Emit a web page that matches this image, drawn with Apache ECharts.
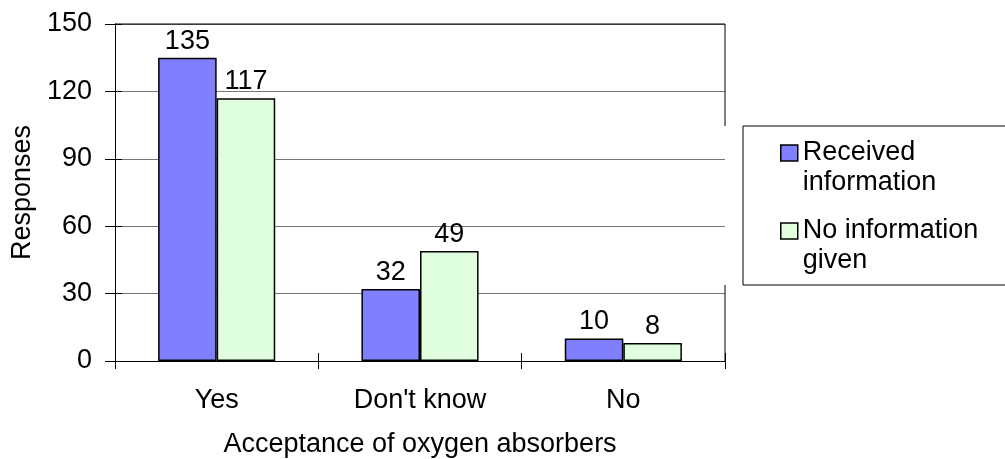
<!DOCTYPE html>
<html>
<head>
<meta charset="utf-8">
<script src="https://cdn.jsdelivr.net/npm/echarts@6/dist/echarts.min.js"></script>
<style>
  html, body { margin: 0; padding: 0; background: #ffffff; }
  #chart { width: 1005px; height: 459px; }
</style>
</head>
<body>
<div id="chart"></div>
<script>
// Survey answers grouped by whether respondents were informed
const categories = ["Yes", "Don't know", "No"];
const receivedInfo = [135, 32, 10];
const noInfo = [117, 49, 8];
const seriesNames = ["Received\ninformation", "No information\ngiven"];
const yTicks = { min: 0, max: 150, interval: 30 };

const FONT = "'Liberation Sans', Arial, sans-serif";
const FS = 27;
const chart = echarts.init(document.getElementById('chart'), null, { renderer: 'canvas' });

const gridBox = { left: 115, right: 280, top: 24, bottom: 98 };

chart.setOption({
  backgroundColor: '#ffffff',
  animation: false,
  textStyle: { fontFamily: FONT, color: '#000' },
  grid: Object.assign({ containLabel: false, outerBoundsMode: 'none' }, gridBox),
  legend: {
    orient: 'vertical',
    left: 780,
    top: 108,
    padding: 0,
    itemWidth: 17,
    itemHeight: 16,
    itemGap: -12,
    icon: 'rect',
    itemStyle: { borderColor: '#000', borderWidth: 1.5 },
    // a leading blank line lines the swatch up with the first line of text
    formatter: function (name) { return '\n' + name; },
    textStyle: { fontFamily: FONT, fontSize: FS, color: '#000', lineHeight: 30 },
    textGap: 8,
    data: seriesNames
  },
  xAxis: [{
    type: 'category',
    data: categories,
    boundaryGap: true,
    axisLine: { lineStyle: { color: '#000', width: 1 } },
    axisTick: { show: true, length: 8, lineStyle: { color: '#000' } },
    axisLabel: { fontFamily: FONT, fontSize: FS, color: '#000', margin: 26 },
    name: 'Acceptance of oxygen absorbers',
    nameLocation: 'middle',
    nameGap: 70,
    nameTextStyle: { fontFamily: FONT, fontSize: FS, color: '#000' },
    splitLine: { show: false }
  }, {
    // inward half of the crossing ticks
    type: 'category',
    data: categories,
    position: 'bottom',
    offset: 0,
    axisLine: { show: false, onZero: false },
    axisTick: { show: true, inside: true, length: 8, lineStyle: { color: '#000' } },
    axisLabel: { show: false },
    splitLine: { show: false }
  }],
  yAxis: [{
    type: 'value',
    min: yTicks.min, max: yTicks.max, interval: yTicks.interval,
    axisLine: { show: true, lineStyle: { color: '#000', width: 1 } },
    axisTick: { show: true, length: 10, lineStyle: { color: '#000' } },
    axisLabel: { fontFamily: FONT, fontSize: FS, color: '#000', margin: 23 },
    splitLine: { show: true, lineStyle: { color: '#777', width: 1 } },
    name: 'Responses',
    nameLocation: 'middle',
    nameGap: 78,
    nameRotate: 90,
    nameTextStyle: { fontFamily: FONT, fontSize: FS, color: '#000' }
  }, {
    type: 'value',
    min: yTicks.min, max: yTicks.max, interval: yTicks.interval,
    position: 'left',
    offset: 0,
    axisLine: { show: false, onZero: false },
    axisTick: { show: true, inside: true, length: 7, lineStyle: { color: '#000' } },
    axisLabel: { show: false },
    splitLine: { show: false }
  }],
  series: [{
    name: seriesNames[0],
    type: 'bar',
    data: receivedInfo,
    barWidth: '28.8%',
    barGap: '0%',
    itemStyle: { color: '#8080ff', borderColor: '#000', borderWidth: 1.5 },
    label: { show: true, position: 'top', distance: 3, fontFamily: FONT, fontSize: FS, color: '#000' }
  }, {
    name: seriesNames[1],
    type: 'bar',
    data: noInfo,
    barWidth: '28.8%',
    barGap: '0%',
    itemStyle: { color: '#dfffdf', borderColor: '#000', borderWidth: 1.5 },
    label: { show: true, position: 'top', distance: 3, fontFamily: FONT, fontSize: FS, color: '#000' }
  }]
});

// Frame: top edge of the plot, right edge broken where the legend sits, and the legend box
function drawFrame() {
  const g = chart.getModel().getComponent('grid', 0).coordinateSystem.getRect();
  const x0 = g.x, x1 = g.x + g.width, y0 = g.y, y1 = g.y + g.height;
  const legTop = 126, legBottom = 285, legLeft = 743;
  const stroke = { stroke: '#000', lineWidth: 1 };
  chart.setOption({
    graphic: [
      { type: 'line', shape: { x1: x0, y1: y0, x2: x1, y2: y0 }, style: stroke, silent: true, z: 5 },
      { type: 'line', shape: { x1: x1, y1: y0, x2: x1, y2: legTop }, style: stroke, silent: true, z: 5 },
      { type: 'line', shape: { x1: x1, y1: legBottom, x2: x1, y2: y1 }, style: stroke, silent: true, z: 5 },
      { type: 'rect', shape: { x: legLeft, y: legTop, width: 1005 - legLeft + 5, height: legBottom - legTop },
        style: { fill: 'rgba(0,0,0,0)', stroke: '#000', lineWidth: 1 }, silent: true, z: 5 }
    ]
  });
}
drawFrame();
</script>
</body>
</html>
